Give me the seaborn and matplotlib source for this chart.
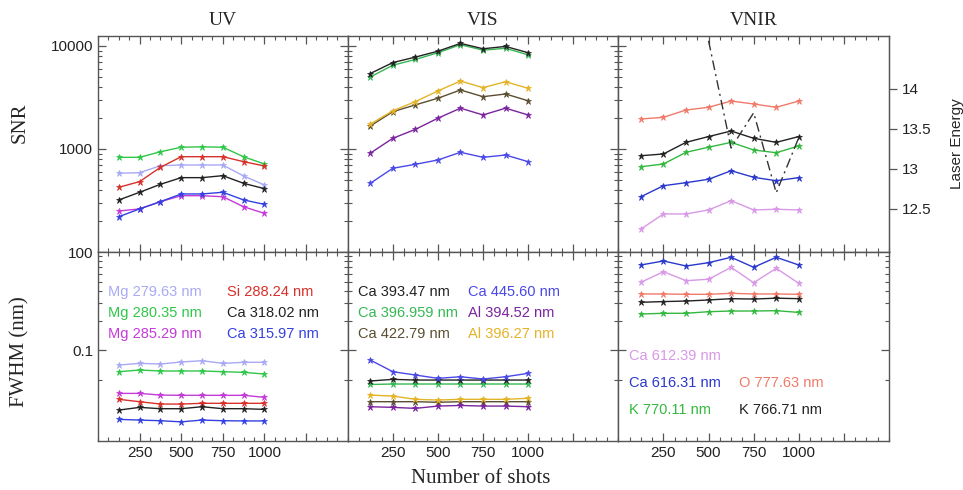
import numpy as np
import pandas as pd
import matplotlib
matplotlib.use("Agg")
import matplotlib.pyplot as plt
from matplotlib.ticker import FixedLocator, NullFormatter, FixedFormatter, MultipleLocator
import seaborn as sns

# ---------------- data ----------------
shots = [125, 250, 375, 500, 625, 750, 875, 1000]

# UV - SNR
uv_snr_mg27963 = [581, 589, 688, 699, 699, 699, 547, 447]
uv_snr_mg28035 = [830, 830, 940, 1040, 1050, 1040, 840, 715]
uv_snr_mg28529 = [250, 262, 308, 352, 352, 344, 275, 237]
uv_snr_si28824 = [425, 482, 664, 842, 842, 842, 753, 684]
uv_snr_ca31802 = [320, 380, 454, 527, 527, 551, 464, 412]
uv_snr_ca31597 = [220, 262, 308, 366, 366, 380, 320, 290]

# UV - FWHM
uv_fw_mg27963 = [0.0703, 0.0731, 0.0720, 0.0755, 0.0778, 0.0731, 0.0749, 0.0749]
uv_fw_mg28035 = [0.0601, 0.0625, 0.0611, 0.0611, 0.0611, 0.0601, 0.0592, 0.0569]
uv_fw_mg28529 = [0.0361, 0.0361, 0.0347, 0.0345, 0.0345, 0.0345, 0.0345, 0.0329]
uv_fw_si28824 = [0.0314, 0.0297, 0.0281, 0.0281, 0.0286, 0.0286, 0.0286, 0.0286]
uv_fw_ca31802 = [0.0244, 0.0260, 0.0252, 0.0252, 0.0264, 0.0252, 0.0252, 0.0248]
uv_fw_ca31597 = [0.0196, 0.0193, 0.0190, 0.0185, 0.0193, 0.0190, 0.0189, 0.0189]

# VIS - SNR
vis_snr_ca39347 = [5400, 6900, 7800, 8900, 10600, 9400, 9900, 8600]
vis_snr_ca396959 = [5000, 6500, 7400, 8600, 10300, 9100, 9500, 8200]
vis_snr_ca42279 = [1670, 2300, 2680, 3110, 3740, 3220, 3420, 2940]
vis_snr_ca44560 = [464, 650, 710, 782, 929, 830, 874, 753]
vis_snr_al39452 = [910, 1270, 1550, 1990, 2490, 2140, 2490, 2140]
vis_snr_al39627 = [1740, 2350, 2880, 3660, 4570, 3940, 4500, 3880]

# VIS - FWHM
vis_fw_ca39347 = [0.0483, 0.0502, 0.0494, 0.0494, 0.0494, 0.0494, 0.0494, 0.0494]
vis_fw_ca396959 = [0.0445, 0.0450, 0.0450, 0.0450, 0.0450, 0.0450, 0.0450, 0.0450]
vis_fw_ca42279 = [0.0297, 0.0297, 0.0297, 0.0293, 0.0297, 0.0297, 0.0297, 0.0297]
vis_fw_ca44560 = [0.0791, 0.0601, 0.0556, 0.0514, 0.0534, 0.0506, 0.0534, 0.0578]
vis_fw_al39452 = [0.0264, 0.0260, 0.0254, 0.0268, 0.0272, 0.0268, 0.0268, 0.0264]
vis_fw_al39627 = [0.0347, 0.0339, 0.0314, 0.0309, 0.0314, 0.0314, 0.0314, 0.0322]

# VNIR - SNR
vnir_snr_ca61239 = [167, 234, 234, 256, 315, 256, 260, 256]
vnir_snr_ca61631 = [344, 440, 471, 508, 615, 531, 492, 527]
vnir_snr_o77763 = [1955, 2030, 2390, 2540, 2920, 2735, 2540, 2920]
vnir_snr_k77011 = [673, 715, 929, 1040, 1160, 978, 920, 1070]
vnir_snr_k76671 = [860, 895, 1160, 1320, 1495, 1270, 1160, 1320]

# VNIR - FWHM
vnir_fw_ca61239 = [0.491, 0.629, 0.510, 0.527, 0.698, 0.486, 0.682, 0.479]
vnir_fw_ca61631 = [0.737, 0.810, 0.720, 0.778, 0.883, 0.698, 0.883, 0.737]
vnir_fw_o77763 = [0.373, 0.373, 0.370, 0.370, 0.379, 0.373, 0.373, 0.370]
vnir_fw_k77011 = [0.233, 0.237, 0.237, 0.246, 0.250, 0.250, 0.252, 0.242]
vnir_fw_k76671 = [0.307, 0.312, 0.316, 0.324, 0.334, 0.331, 0.338, 0.334]

# Laser energy (right axis of VNIR SNR panel)
laser_shots = [500, 625, 750, 875, 1000]
laser_energy = [14.60, 13.26, 13.70, 12.70, 13.39]

panel_titles = ["UV", "VIS", "VNIR"]
x_tick_values = [250, 500, 750, 1000, 1250]
x_tick_labels = ["250", "500", "750", "1000", ""]
snr_ticks = [100, 1000, 10000]
snr_tick_labels = ["100", "1000", "10000"]
fwhm_ticks = [0.1]
fwhm_tick_labels = ["0.1"]
energy_ticks = [12.5, 13, 13.5, 14]
energy_tick_labels = ["12.5", "13", "13.5", "14"]

# ---------------- style ----------------
sns.set_style("ticks")
plt.rcParams["font.family"] = ["Liberation Sans", "DejaVu Sans"]

SERIF = "Liberation Serif"
SPINE = "#555555"

uv_series = [
    ("Mg 279.63 nm", "#a9a9f5", uv_snr_mg27963, uv_fw_mg27963, 0.04, 0.788),
    ("Mg 280.35 nm", "#2fc748", uv_snr_mg28035, uv_fw_mg28035, 0.04, 0.677),
    ("Mg 285.29 nm", "#c43ad8", uv_snr_mg28529, uv_fw_mg28529, 0.04, 0.566),
    ("Si 288.24 nm", "#d8302a", uv_snr_si28824, uv_fw_si28824, 0.515, 0.788),
    ("Ca 318.02 nm", "#222222", uv_snr_ca31802, uv_fw_ca31802, 0.515, 0.677),
    ("Ca 315.97 nm", "#3340e0", uv_snr_ca31597, uv_fw_ca31597, 0.515, 0.566),
]
vis_series = [
    ("Ca 396.959 nm", "#35b852", vis_snr_ca396959, vis_fw_ca396959, 0.037, 0.677),
    ("Ca 393.47 nm", "#222222", vis_snr_ca39347, vis_fw_ca39347, 0.037, 0.788),
    ("Ca 422.79 nm", "#5a4e30", vis_snr_ca42279, vis_fw_ca42279, 0.037, 0.566),
    ("Ca 445.60 nm", "#4a48e6", vis_snr_ca44560, vis_fw_ca44560, 0.444, 0.788),
    ("Al 394.52 nm", "#7a249e", vis_snr_al39452, vis_fw_al39452, 0.444, 0.677),
    ("Al 396.27 nm", "#e4b326", vis_snr_al39627, vis_fw_al39627, 0.444, 0.566),
]
vnir_series = [
    ("Ca 612.39 nm", "#d898e6", vnir_snr_ca61239, vnir_fw_ca61239, 0.04, 0.45),
    ("Ca 616.31 nm", "#2a38cc", vnir_snr_ca61631, vnir_fw_ca61631, 0.04, 0.307),
    ("O 777.63 nm", "#f07a6a", vnir_snr_o77763, vnir_fw_o77763, 0.444, 0.307),
    ("K 770.11 nm", "#33b83e", vnir_snr_k77011, vnir_fw_k77011, 0.04, 0.164),
    ("K 766.71 nm", "#222222", vnir_snr_k76671, vnir_fw_k76671, 0.444, 0.164),
]
all_series = [uv_series, vis_series, vnir_series]

W, H = 963, 490
fig = plt.figure(figsize=(W / 100, H / 100), dpi=100)
gs = fig.add_gridspec(2, 3, width_ratios=[250, 271, 271], height_ratios=[216, 189],
                      left=98 / W, right=889 / W, top=1 - 36 / H, bottom=1 - 441 / H,
                      wspace=0, hspace=0)

snr_minor = [m * 10 ** e for e in (2, 3) for m in range(2, 10)]
fwhm_minor = [0.05] + [m / 10 for m in range(2, 10)]

for col, series in enumerate(all_series):
    ax_top = fig.add_subplot(gs[0, col])
    ax_bot = fig.add_subplot(gs[1, col])
    for name, color, snr, fw, tx, ty in series:
        for ax, vals in ((ax_top, snr), (ax_bot, fw)):
            sns.lineplot(x=shots, y=vals, ax=ax, color=color, marker="*",
                         markersize=5, markeredgecolor=color, markeredgewidth=0.5,
                         linewidth=1.0, legend=False)
        ax_bot.text(tx, ty, name, transform=ax_bot.transAxes, color=color,
                    fontsize=10.5, ha="left", va="center")

    for ax in (ax_top, ax_bot):
        ax.set_yscale("log")
        ax.set_xlim(0, 1500)
        ax.xaxis.set_major_locator(FixedLocator(x_tick_values))
        ax.xaxis.set_major_formatter(FixedFormatter(x_tick_labels))
        ax.xaxis.set_minor_locator(MultipleLocator(62.5))
        ax.set_xlabel("")
        ax.set_ylabel("")
        for s in ax.spines.values():
            s.set_color(SPINE)
            s.set_linewidth(1.0)
        ax.tick_params(which="both", direction="in", top=True, bottom=True,
                       left=True, right=True, color=SPINE, labelsize=11,
                       labelcolor="#222222")
        ax.tick_params(which="major", length=6, width=0.9)
        ax.tick_params(which="minor", length=3, width=0.8)

    ax_top.set_ylim(100, 12500)
    ax_top.yaxis.set_major_locator(FixedLocator(snr_ticks))
    ax_top.yaxis.set_major_formatter(FixedFormatter(snr_tick_labels))
    ax_top.yaxis.set_minor_locator(FixedLocator(snr_minor))
    ax_top.yaxis.set_minor_formatter(NullFormatter())
    ax_top.tick_params(labelbottom=False)
    ax_top.set_title(panel_titles[col], fontfamily=SERIF, fontsize=14, pad=8)

    ax_bot.set_ylim(0.0118, 1.0)
    ax_bot.yaxis.set_major_locator(FixedLocator(fwhm_ticks))
    ax_bot.yaxis.set_major_formatter(FixedFormatter(fwhm_tick_labels))
    ax_bot.yaxis.set_minor_locator(FixedLocator(fwhm_minor))
    ax_bot.yaxis.set_minor_formatter(NullFormatter())

    if col > 0:
        ax_top.tick_params(labelleft=False)
        ax_bot.tick_params(labelleft=False)

    if col == 2:
        ax_top.tick_params(which="both", right=False)
        ax2 = ax_top.twinx()
        sns.lineplot(x=laser_shots, y=laser_energy, ax=ax2, color="#333333",
                     linewidth=1.0, legend=False)
        ax2.lines[0].set_dashes([7, 3, 1.5, 3])
        ax2.set_ylim(11.96, 14.66)
        ax2.yaxis.set_major_locator(FixedLocator(energy_ticks))
        ax2.yaxis.set_major_formatter(FixedFormatter(energy_tick_labels))
        ax2.tick_params(axis="y", direction="out", length=6, width=0.9,
                        color=SPINE, labelsize=11, labelcolor="#222222")
        ax2.set_ylabel("Laser Energy", fontsize=11, labelpad=13)
        for s in ax2.spines.values():
            s.set_color(SPINE)

fig.text(20 / W, 1 - 123 / H, "SNR", rotation=90, ha="center", va="center",
         fontfamily=SERIF, fontsize=15)
fig.text(20 / W, 1 - 352 / H, "FWHM (nm)", rotation=90, ha="center", va="center",
         fontfamily=SERIF, fontsize=15)
fig.text(481 / W, 1 - 478 / H, "Number of shots", ha="center", va="center",
         fontfamily=SERIF, fontsize=15)

fig.savefig("out.png", dpi=100, facecolor="white")
